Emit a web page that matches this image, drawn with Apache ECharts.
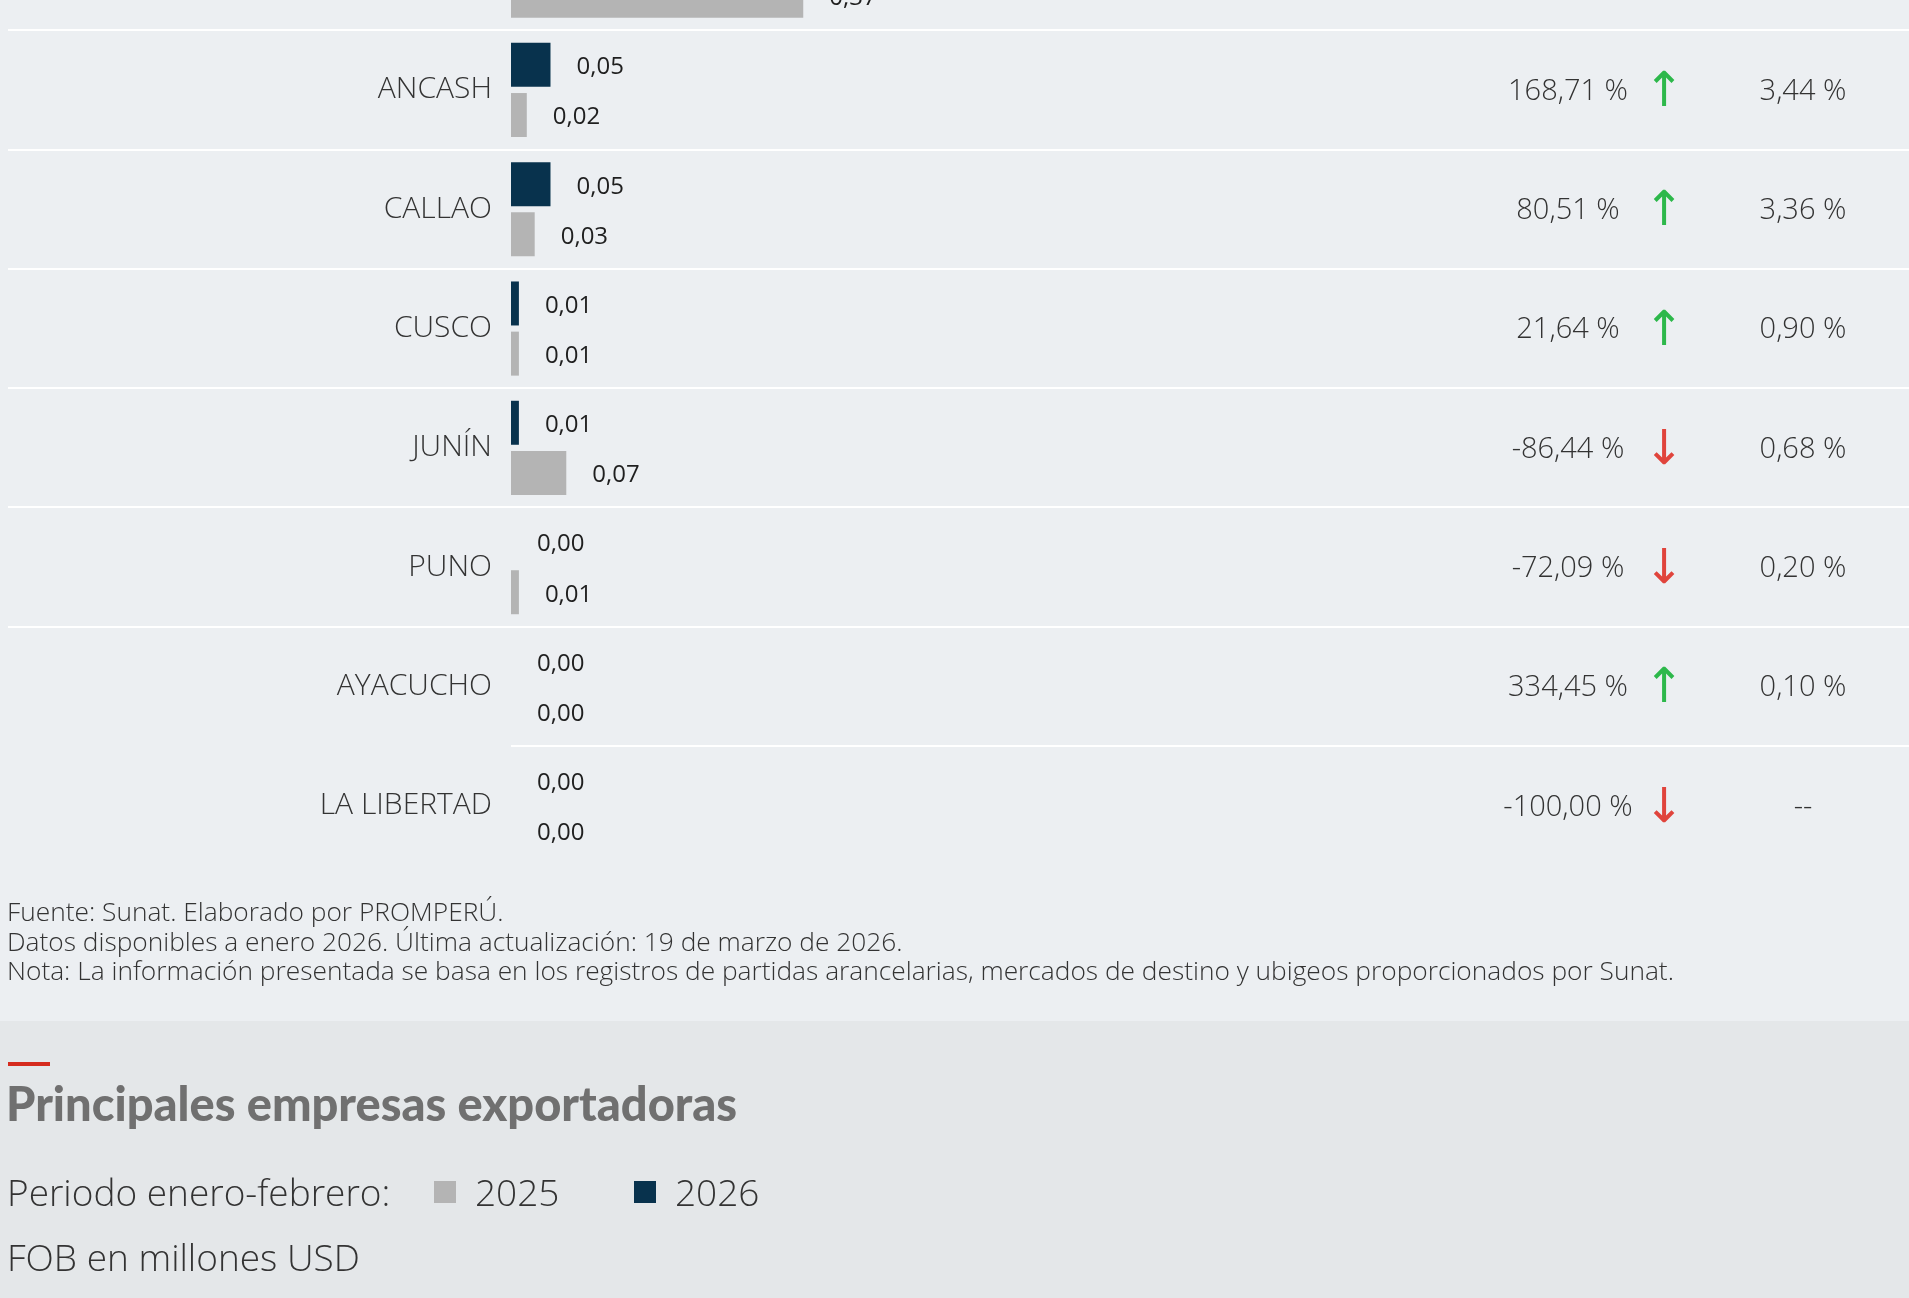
<!DOCTYPE html>
<html>
<head>
<meta charset="utf-8">
<title>Exportaciones por región</title>
<script src="https://cdn.jsdelivr.net/npm/echarts@6/dist/echarts.min.js"></script>
<style>
  html, body { margin: 0; padding: 0; background: #eceff2; overflow: hidden; }
  /* el lienzo empieza 120px arriba: la primera fila queda cortada */
  #main { position: absolute; left: 0; top: -120px; width: 1909px; height: 1418px; }
</style>
</head>
<body>
<div id="main"></div>
<script>
  // categorías (la primera fila queda cortada arriba)
  var regiones = ['', 'ANCASH', 'CALLAO', 'CUSCO', 'JUNÍN', 'PUNO', 'AYACUCHO', 'LA LIBERTAD'];
  // FOB en millones USD
  var fob2026 = [null, 0.05, 0.05, 0.01, 0.01, 0, 0, 0];
  var fob2025 = [0.37, 0.02, 0.03, 0.01, 0.07, 0.01, 0, 0];
  // variación % y participación %
  var variacion = [null, 168.71, 80.51, 21.64, -86.44, -72.09, 334.45, -100.00];
  var participacion = [null, 3.44, 3.36, 0.90, 0.68, 0.20, 0.10, null];
  // filas tras las que va una línea separadora
  var sepCompleto = [0, 1, 2, 3, 4, 5];
  var sepParcial = [6];

  var notas = [
    'Fuente: Sunat. Elaborado por PROMPERÚ.',
    'Datos disponibles a enero 2026. Última actualización: 19 de marzo de 2026.',
    'Nota: La información presentada se basa en los registros de partidas arancelarias, mercados de destino y ubigeos proporcionados por Sunat.'
  ];

  var AZUL = '#08324d';
  var GRIS = '#b4b4b4';
  var TXT = '#333333';
  var OFF = 120; // desplazamiento del lienzo

  function coma(v) {
    return v.toFixed(2).replace('.', ',');
  }

  var filaTop = OFF - 89;
  var filaAlto = 954.4;

  var estTexto = { fontSize: 29, fontFamily: 'Open Sans', fontWeight: 300, color: TXT, verticalAlign: 'middle', padding: [3, 0, 0, 0] };
  var estFlecha = { width: 24, align: 'center', fontSize: 48, fontFamily: 'DejaVu Sans', verticalAlign: 'middle', padding: [7, 0, 0, 0] };

  // línea bajo cada fila, a lo ancho de su grid
  function separador(params, api) {
    var c = api.coord([0, api.value(1)]);
    var h = api.size([0, 1])[1];
    var cs = params.coordSys;
    var y = Math.round(c[1] + h / 2);
    return {
      type: 'line',
      shape: { x1: cs.x, y1: y, x2: cs.x + cs.width, y2: y },
      style: { stroke: '#ffffff', lineWidth: 2 }
    };
  }

  function etiqueta(p) {
    return p.value == null ? '' : coma(p.value);
  }

  function texto(t, x, y, size, extra) {
    return {
      type: 'text',
      style: Object.assign({
        text: t, x: x, y: y + OFF, fontSize: size, fontFamily: 'Open Sans', fontWeight: 300,
        fill: TXT, verticalAlign: 'middle'
      }, extra || {})
    };
  }

  var option = {
    backgroundColor: '#eceff2',
    animation: false,
    grid: [
      { left: 511, right: 0, top: filaTop, height: filaAlto, outerBoundsMode: 'none' },   // barras
      { left: 8, right: 0, top: filaTop, height: filaAlto, outerBoundsMode: 'none' }      // separadores
    ],
    xAxis: [
      { type: 'value', gridIndex: 0, min: 0, max: 1.77, show: false },
      { type: 'value', gridIndex: 1, min: 0, max: 1, show: false }
    ],
    yAxis: [
      {
        type: 'category', gridIndex: 0, data: regiones, inverse: true,
        axisLine: { show: false }, axisTick: { show: false }, splitLine: { show: false },
        axisLabel: { interval: 0, margin: 19, fontSize: 30, fontFamily: 'Open Sans', fontWeight: 300, color: TXT, padding: [5, 0, 0, 0] }
      },
      {
        type: 'category', gridIndex: 0, data: regiones, inverse: true, position: 'right',
        axisLine: { show: false }, axisTick: { show: false }, splitLine: { show: false },
        axisLabel: {
          interval: 0,
          margin: -425,
          formatter: function (val, i) {
            if (variacion[i] == null) return '';
            var flecha = variacion[i] >= 0 ? '{up|↑}' : '{dn|↓}';
            var part = participacion[i] == null ? '--' : coma(participacion[i]) + ' %';
            return '{g|' + coma(variacion[i]) + ' %}' + flecha + '{s|' + part + '}';
          },
          rich: {
            g: Object.assign({ width: 168, align: 'center' }, estTexto),
            s: Object.assign({ width: 254, align: 'center' }, estTexto),
            up: Object.assign({ color: '#2db84b' }, estFlecha),
            dn: Object.assign({ color: '#e0443c' }, estFlecha)
          }
        }
      },
      {
        type: 'category', gridIndex: 1, data: regiones, inverse: true, show: false
      }
    ],
    series: [
      {
        name: '2026', type: 'bar', xAxisIndex: 0, yAxisIndex: 0,
        data: fob2026, barWidth: 44, barGap: '14%',
        itemStyle: { color: AZUL },
        label: {
          show: true, position: 'right', distance: 26, offset: [0, 2.5],
          fontSize: 24, fontFamily: 'Open Sans', color: '#1f1f1f', formatter: etiqueta
        }
      },
      {
        name: '2025', type: 'bar', xAxisIndex: 0, yAxisIndex: 0,
        data: fob2025, barWidth: 44, barGap: '14%',
        itemStyle: { color: GRIS },
        label: {
          show: true, position: 'right', distance: 26, offset: [0, 2.5],
          fontSize: 24, fontFamily: 'Open Sans', color: '#1f1f1f', formatter: etiqueta
        }
      },
      {
        type: 'custom', xAxisIndex: 1, yAxisIndex: 2, silent: true,
        renderItem: separador,
        data: sepCompleto.map(function (i) { return [0, i]; })
      },
      {
        type: 'custom', xAxisIndex: 0, yAxisIndex: 0, silent: true,
        renderItem: separador,
        data: sepParcial.map(function (i) { return [0, i]; })
      }
    ],
    graphic: [
      // notas al pie
      texto(notas[0], 7, 914, 26.3),
      texto(notas[1], 7, 944, 26.3),
      texto(notas[2], 7, 973, 26.3),
      // siguiente sección
      { type: 'rect', z: -10, shape: { x: 0, y: 1021 + OFF, width: 1909, height: 277 }, style: { fill: '#e4e7e9' } },
      { type: 'rect', shape: { x: 8, y: 1062 + OFF, width: 42, height: 4 }, style: { fill: '#d52b1e' } },
      texto('Principales empresas exportadoras', 6, 1106, 47, { fontFamily: 'Lato', fontWeight: 900, fill: '#707070' }),
      texto('Periodo enero-febrero:', 7, 1195, 37),
      { type: 'rect', shape: { x: 434, y: 1181 + OFF, width: 22, height: 22 }, style: { fill: GRIS } },
      texto('2025', 475, 1195, 37),
      { type: 'rect', shape: { x: 634, y: 1181 + OFF, width: 22, height: 22 }, style: { fill: AZUL } },
      texto('2026', 675, 1195, 37),
      texto('FOB en millones USD', 7, 1260, 37)
    ]
  };

  var myChart = echarts.init(document.getElementById('main'));
  myChart.setOption(option);
</script>
</body>
</html>
